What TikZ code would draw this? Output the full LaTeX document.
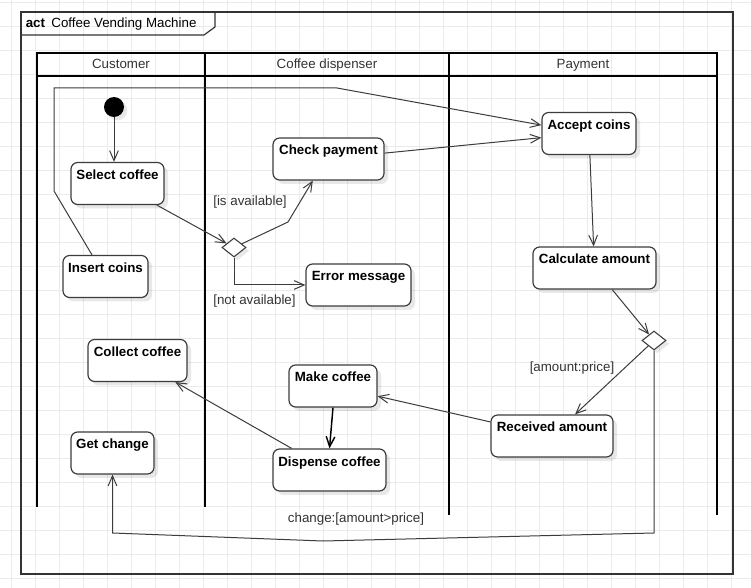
\documentclass[tikz,border=0pt]{standalone}
\usepackage{fontspec}
\setmainfont{Liberation Sans}
\usetikzlibrary{shapes.geometric,shadows,arrows.meta}

\definecolor{umlline}{HTML}{3C3C3C}
\definecolor{umltext}{HTML}{333333}
\definecolor{gridgray}{HTML}{EBEBEB}

\tikzset{
  action/.style={draw=umlline, line width=0.9pt, fill=white, rounded corners=5pt,
    minimum width=#1, minimum height=31.5pt, inner xsep=1pt, inner ysep=5.25pt,
    text height=7.5pt, text depth=13.5pt, font=\fontsize{10}{12}\selectfont\bfseries,
    drop shadow={shadow xshift=3pt, shadow yshift=-3pt, fill=black, opacity=0.09}},
  decision/.style={diamond, draw=umlline, line width=0.8pt, fill=white, inner sep=0pt,
    minimum width=18pt, minimum height=14.25pt,
    drop shadow={shadow xshift=2.5pt, shadow yshift=-2.5pt, fill=black, opacity=0.09}},
  initial/.style={circle, fill=black, inner sep=0pt, minimum size=15pt,
    drop shadow={shadow xshift=2.5pt, shadow yshift=-2.5pt, fill=black, opacity=0.09}},
  flow/.style={draw=umlline, line width=0.75pt, -{Straight Barb[length=7.5pt,width=6.5pt]}},
  guard/.style={text=umltext, inner sep=0pt, font=\fontsize{10}{12}\selectfont},
  lane/.style={black, line width=1.6pt},
  frame/.style={draw=umltext, line width=0.9pt}
}

\begin{document}
\begin{tikzpicture}[x=0.75pt, y=-0.75pt]

    \useasboundingbox (0,0) rectangle (751,588);
    \fill[white] (0,0) rectangle (751,588);

    % background grid
    \foreach \gx in {0,...,30}
        \draw[gridgray, line width=0.75pt] (11.7+24*\gx,0) -- (11.7+24*\gx,588);
    \foreach \gy in {0,...,24}
        \draw[gridgray, line width=0.75pt] (0,2.7+24*\gy) -- (751,2.7+24*\gy);

    % frame and title tab
    \draw[frame] (21,12) rectangle (733,574);
    \draw[frame] (21,35) -- (204,35) -- (215,27) -- (215,12);
    \node[anchor=base west, inner sep=0pt, font=\fontsize{10}{12}\selectfont] (title) at (25.5,27.5) {\textbf{act}\kern2pt\ Coffee Vending Machine};

    % swimlanes
    \draw[lane] (37,53) rectangle (717,76);
    \draw[lane] (37,76) -- (37,507);
    \draw[lane] (205,53) -- (205,507);
    \draw[lane] (449,53) -- (449,515);
    \draw[lane] (717,76) -- (717,515);
    \node[guard, anchor=base, text=umltext] (customer) at (121,69) {Customer};
    \node[guard, anchor=base, text=umltext] (dispenser) at (327,69) {Coffee dispenser};
    \node[guard, anchor=base, text=umltext] (payment) at (583,69) {Payment};

    % activities
    \node[initial] (init) at (114,107) {};
    \node[action=69.75pt] (sel) at (117.5,183.5) {Select coffee};
    \node[action=83.25pt] (chk) at (328.5,159) {Check payment};
    \node[action=70.5pt] (acc) at (589,133.5) {Accept coins};
    \node[action=63.75pt] (ins) at (105.5,276.5) {Insert coins};
    \node[action=78.75pt] (err) at (358.5,285) {Error message};
    \node[action=92.25pt] (calc) at (594.5,268) {Calculate amount};
    \node[action=74.25pt] (col) at (137.5,360.5) {Collect coffee};
    \node[action=66pt] (mk) at (333,386) {Make coffee};
    \node[action=91.5pt] (rec) at (552,436) {Received amount};
    \node[action=62.25pt] (chg) at (112.5,453) {Get change};
    \node[action=84.75pt] (disp) at (329.5,470) {Dispense coffee};

    \node[decision] (d1) at (234,247.5) {};
    \node[decision] (d2) at (654,340.5) {};

    % bend points
    \coordinate (loopa) at (54,191);
    \coordinate (loopb) at (54,88);
    \coordinate (loopc) at (337,88);
    \coordinate (availbend) at (288,222);
    \coordinate (chgr) at (654,533);
    \coordinate (chgdip) at (323,541);
    \coordinate (chgl) at (112.5,533);

    % flows
    \draw[flow] (init) -- (init |- sel.north);
    \draw[flow] (sel) -- (d1);
    \draw[flow] (d1) -- (availbend) -- (chk.234);
    \draw[flow] (d1.south) |- (err.west);
    \draw[flow] (chk.6) -- (acc.185);
    \draw[flow] (ins.122) -- (loopa) -- (loopb) -- (loopc) -- (acc.170);
    \draw[flow] (acc) -- (calc);
    \draw[flow] (calc) -- (d2);
    \draw[flow] (d2) -- (rec);
    \draw[flow] (rec) -- (mk);
    \draw[flow, draw=black, line width=1.1pt] (mk.south) -- (disp.north);
    \draw[flow] (disp) -- (col);
    \draw[flow] (d2.south) -- (chgr) -- (chgdip) -- (chgl) -- (chg.south);

    % guards
    \node[guard] (lblavail) at (250,202.5) {[is available]};
    \node[guard] (lblnot) at (254.5,301.5) {[not available]};
    \node[guard] (lblamount) at (572,368) {[amount:price]};
    \node[guard] (lblchange) at (356,519) {change:[amount>price]};

\end{tikzpicture}
\end{document}
